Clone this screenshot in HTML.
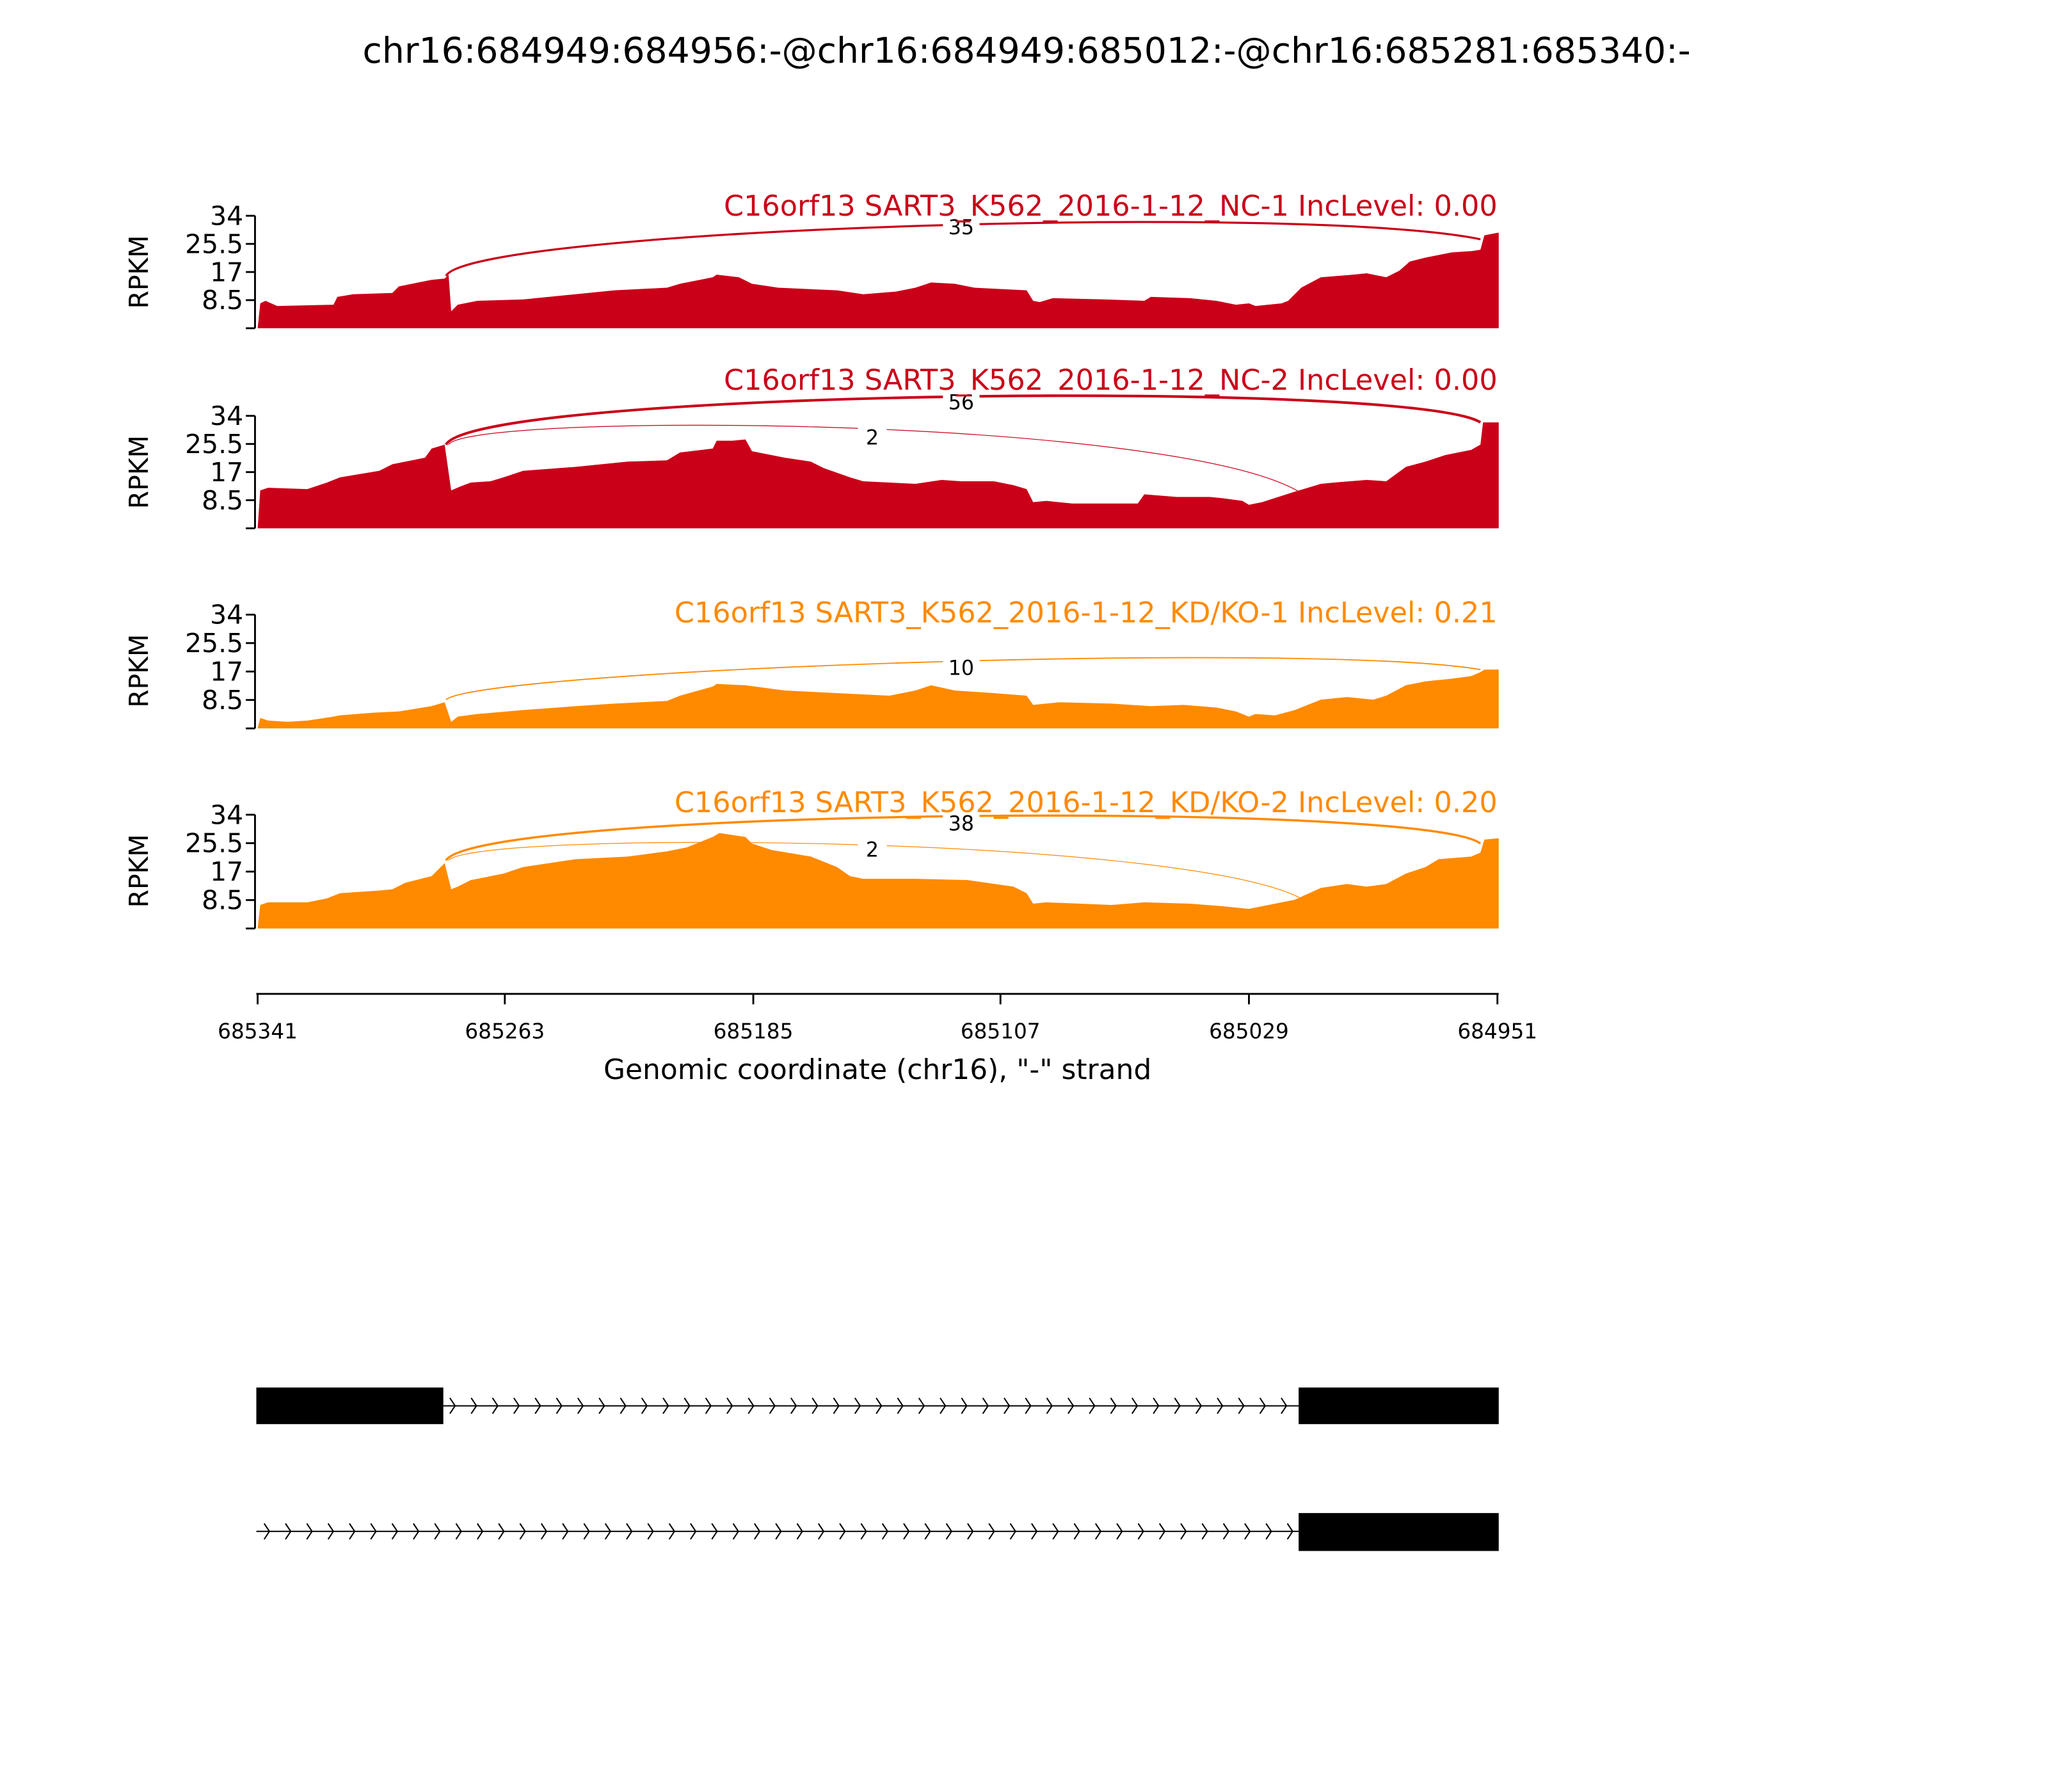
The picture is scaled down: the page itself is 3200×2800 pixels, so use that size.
<!DOCTYPE html>
<html><head><meta charset="utf-8"><style>
html,body{margin:0;padding:0;background:#fff}
svg{display:block}
text{font-family:"DejaVu Sans","Liberation Sans",sans-serif}
</style></head><body>
<svg id="s" width="3200" height="2800" viewBox="0 0 1566 1370.3" preserveAspectRatio="none" xmlns="http://www.w3.org/2000/svg">
<text x="785" y="48" font-size="27" text-anchor="middle">chr16:684949:684956:-@chr16:684949:685012:-@chr16:685281:685340:-</text>

<!-- Panel 1 -->
<g>
<path fill="#ca0019" d="M197,251 L199,232 203,230 212,234 255,233 258,227 270,225 300,224 305,219 330,214 340,213 343,210 345,238 350,233 365,230 400,229 430,226 470,222 510,220 520,217 545,212 548,210 565,212 575,217 595,220 640,222 660,225 685,223 700,220 712,216 730,217 745,220 785,222 790,230 795,231 805,228 845,229 875,230 880,227 910,228 930,230 945,233 955,232 960,234 980,232 985,230 995,220 1010,212 1035,210 1045,209 1060,212 1070,207 1078,200 1090,197 1110,193 1125,192 1132,191 1135,180 1145,178 1146,178 1146,251 Z"/>
<path fill="none" stroke="#ca0019" stroke-width="1.6" d="M341,211 C360,175 1000,155 1132,183"/>
<rect x="721" y="164" width="28" height="17" fill="#fff"/>
<text x="735" y="179" font-size="15.5" text-anchor="middle">35</text>
<text x="1145" y="165" font-size="21.8" fill="#ca0019" text-anchor="end">C16orf13 SART3_K562_2016-1-12_NC-1 IncLevel: 0.00</text>
</g>

<!-- Panel 2 -->
<g>
<path fill="#ca0019" d="M197,404 L199,375 205,373 235,374 250,369 260,365 290,360 300,355 325,350 330,343 340,340 345,375 352,372 360,369 375,368 385,365 400,360 440,357 480,353 510,352 520,346 545,343 548,337 560,337 570,336 575,345 600,350 620,353 630,358 650,365 660,368 700,370 720,367 735,368 760,368 775,371 785,374 790,384 800,383 820,385 850,385 870,385 875,378 900,380 925,380 935,381 950,383 955,386 965,384 990,376 1010,370 1020,369 1045,367 1060,368 1075,357 1090,353 1105,348 1125,344 1132,340 1134,323 1146,323 1146,404 Z"/>
<path fill="none" stroke="#ca0019" stroke-width="2" d="M341,340 C365,298 1080,290 1132,323"/>
<path fill="none" stroke="#ca0019" stroke-width="0.6" d="M343,340 C360,315 900,318 995,377"/>
<rect x="721" y="298" width="28" height="17" fill="#fff"/>
<text x="735" y="313" font-size="15.5" text-anchor="middle">56</text>
<rect x="656" y="325" width="22" height="17" fill="#fff"/>
<text x="667" y="340" font-size="15.5" text-anchor="middle">2</text>
<text x="1145" y="298" font-size="21.8" fill="#ca0019" text-anchor="end">C16orf13 SART3_K562_2016-1-12_NC-2 IncLevel: 0.00</text>
</g>

<!-- Panel 3 -->
<g>
<path fill="#ff8a00" d="M197,557 L199,549 205,551 220,552 235,551 255,548 260,547 285,545 305,544 330,540 340,537 345,552 350,548 365,546 400,543 440,540 470,538 510,536 520,532 545,525 548,523 570,524 600,528 640,530 660,531 680,532 700,528 712,524 730,528 760,530 785,532 790,539 800,538 810,537 850,538 880,540 905,539 930,541 945,544 955,548 960,546 975,547 990,543 1010,535 1030,533 1050,535 1060,532 1075,524 1090,521 1110,519 1125,517 1132,514 1135,512 1146,512 1146,557 Z"/>
<path fill="none" stroke="#ff8a00" stroke-width="0.9" d="M341,535 C370,512 1000,490 1132,512"/>
<rect x="721" y="501" width="28" height="17" fill="#fff"/>
<text x="735" y="516" font-size="15.5" text-anchor="middle">10</text>
<text x="1145" y="476" font-size="21.8" fill="#ff8a00" text-anchor="end">C16orf13 SART3_K562_2016-1-12_KD/KO-1 IncLevel: 0.21</text>
</g>

<!-- Panel 4 -->
<g>
<path fill="#ff8a00" d="M197,710 L199,692 205,690 235,690 250,687 260,683 290,681 300,680 310,675 330,670 340,660 345,680 350,678 360,673 375,670 385,668 400,663 440,657 480,655 510,651 525,648 545,640 550,637 570,640 575,645 590,650 620,655 640,663 650,670 660,672 700,672 740,673 775,678 785,683 790,691 800,690 850,692 875,690 910,691 935,693 955,695 965,693 990,688 1010,679 1030,676 1045,678 1060,676 1075,668 1090,663 1100,657 1125,655 1132,652 1135,642 1146,641 1146,710 Z"/>
<path fill="none" stroke="#ff8a00" stroke-width="1.7" d="M341,658 C365,618 1090,612 1132,645"/>
<path fill="none" stroke="#ff8a00" stroke-width="0.6" d="M343,658 C360,635 900,638 995,687"/>
<rect x="721" y="620" width="28" height="17" fill="#fff"/>
<text x="735" y="635" font-size="15.5" text-anchor="middle">38</text>
<rect x="656" y="640" width="22" height="17" fill="#fff"/>
<text x="667" y="655" font-size="15.5" text-anchor="middle">2</text>
<text x="1145" y="621" font-size="21.8" fill="#ff8a00" text-anchor="end">C16orf13 SART3_K562_2016-1-12_KD/KO-2 IncLevel: 0.20</text>
</g>

<g id="axes" stroke="#000" stroke-width="1.4" fill="none"></g>
<g id="labels" font-size="20"></g>

<!-- x axis -->
<g stroke="#000" stroke-width="1.4">
<line x1="196" y1="760" x2="1146" y2="760"/>
<line x1="197" y1="760" x2="197" y2="768"/>
<line x1="386" y1="760" x2="386" y2="768"/>
<line x1="576" y1="760" x2="576" y2="768"/>
<line x1="765" y1="760" x2="765" y2="768"/>
<line x1="955" y1="760" x2="955" y2="768"/>
<line x1="1145" y1="760" x2="1145" y2="768"/>
</g>
<g font-size="16" text-anchor="middle">
<text x="197" y="794">685341</text>
<text x="386" y="794">685263</text>
<text x="576" y="794">685185</text>
<text x="765" y="794">685107</text>
<text x="955" y="794">685029</text>
<text x="1145" y="794">684951</text>
</g>
<text x="671" y="825" font-size="21.5" text-anchor="middle">Genomic coordinate (chr16), "-" strand</text>

<!-- gene models -->
<line x1="196" y1="1075" x2="993" y2="1075" stroke="#000" stroke-width="1"/>
<rect x="196" y="1061" width="143" height="28" fill="#000"/>
<rect x="993" y="1061" width="153" height="28" fill="#000"/>
<line x1="196" y1="1171" x2="993" y2="1171" stroke="#000" stroke-width="1"/>
<rect x="993" y="1157" width="153" height="29" fill="#000"/>
<g id="chev" stroke="#000" stroke-width="1" fill="none"></g>
</svg>
<script>
var ns="http://www.w3.org/2000/svg";
var ax=document.getElementById('axes'),lb=document.getElementById('labels'),ch=document.getElementById('chev');
function el(p,t,a){var e=document.createElementNS(ns,t);for(var k in a)e.setAttribute(k,a[k]);p.appendChild(e);return e;}
[[165,251,208],[318,404,361],[470,557,513],[623,710,666]].forEach(function(p){
 var top=p[0],bot=p[1];
 el(ax,'line',{x1:195,y1:top,x2:195,y2:bot});
 var vals=['34','25.5','17','8.5',''];
 for(var i=0;i<5;i++){var y=top+(bot-top)*i/4;
  el(ax,'line',{x1:188,y1:y,x2:195,y2:y});
  if(vals[i]){var t=el(lb,'text',{x:186,y:y+7,'text-anchor':'end'});t.textContent=vals[i];}
 }
 var r=el(lb,'text',{x:113,y:p[2],'text-anchor':'middle',transform:'rotate(-90 113 '+p[2]+')'});r.textContent='RPKM';
});
function chev(x0,x1,y){for(var x=x0;x<=x1;x+=16.3){el(ch,'polyline',{points:(x-4)+','+(y-6)+' '+x+','+y+' '+(x-4)+','+(y+6)});}}
chev(348,992,1075);
chev(206,992,1171);
</script>
</body></html>
